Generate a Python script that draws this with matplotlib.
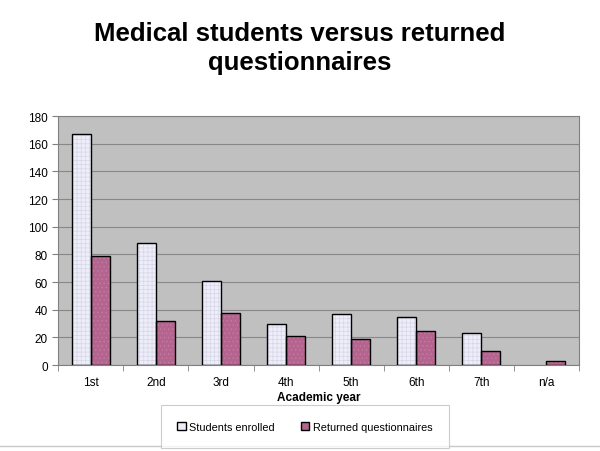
import numpy as np
import matplotlib
matplotlib.use("Agg")
import matplotlib.pyplot as plt
from matplotlib.patches import Patch

plt.rcParams['font.family'] = ['Liberation Sans', 'DejaVu Sans']

years = ['1st', '2nd', '3rd', '4th', '5th', '6th', '7th', 'n/a']
enrolled = [167, 88, 61, 30, 37, 35, 23, 0]
returned = [79, 32, 38, 21, 19, 25, 10, 3]

fig = plt.figure(figsize=(6, 4.52), dpi=100)
ax = fig.add_axes([0.097, 0.19, 0.868, 0.551])
ax.set_facecolor('#c0c0c0')

x = np.arange(len(years))
w = 0.29
# hatched fill first, then a black outline on top
plt.rcParams['hatch.linewidth'] = 0.5
ax.bar(x - w / 2, enrolled, w, color='#eeeefa', edgecolor='#d6d6e6', hatch='++++', linewidth=0, zorder=2)
ax.bar(x + w / 2, returned, w, color='#b4648e', edgecolor='#c27ea2', hatch='....', linewidth=0, zorder=2)
ax.bar(x - w / 2, [v if v > 0 else np.nan for v in enrolled], w, fill=False, edgecolor='black', linewidth=1, zorder=3)
ax.bar(x + w / 2, returned, w, fill=False, edgecolor='black', linewidth=1, zorder=3)

ax.set_xlim(-0.5, len(years) - 0.5)
ax.set_ylim(0, 180)
ax.set_yticks(range(0, 181, 20))
ax.yaxis.grid(True, color='#888888', linewidth=0.8)
ax.set_axisbelow(True)
ax.set_xticks(x)
ax.set_xticklabels(years)
ax.set_xticks(np.arange(len(years) + 1) - 0.5, minor=True)
ax.tick_params(axis='x', which='major', length=0, labelsize=8.5, pad=8)
ax.tick_params(axis='x', which='minor', length=4, color='#808080')
ax.tick_params(axis='y', length=4, labelsize=8.5, color='#808080')
for side in ['top', 'right', 'left', 'bottom']:
    ax.spines[side].set_color('#808080')
ax.set_xlabel('Academic year', fontsize=8.5, fontweight='bold', labelpad=2)

fig.text(0.5, 0.893, 'Medical students versus returned\nquestionnaires', ha='center', va='center',
         fontsize=18.5, fontweight='bold', linespacing=1.3)

handles = [Patch(facecolor='#eeeefa', edgecolor='black', label='Students enrolled'),
           Patch(facecolor='#b4648e', edgecolor='black', label='Returned questionnaires')]
leg = fig.legend(handles=handles, loc='center', bbox_to_anchor=(0.508, 0.054), ncol=2,
                 fontsize=7.8, frameon=True, fancybox=False, edgecolor='#c0c0c0',
                 handlelength=0.8, handleheight=0.8, handletextpad=0.3, columnspacing=2.4,
                 borderpad=1.5, borderaxespad=0)
leg.get_frame().set_linewidth(0.8)

# thin grey rule along the bottom of the figure
fig.add_artist(plt.Line2D([0, 1], [0.011, 0.011], color='#c8c8c8', linewidth=1, transform=fig.transFigure))

fig.savefig('out.png', dpi=100)
